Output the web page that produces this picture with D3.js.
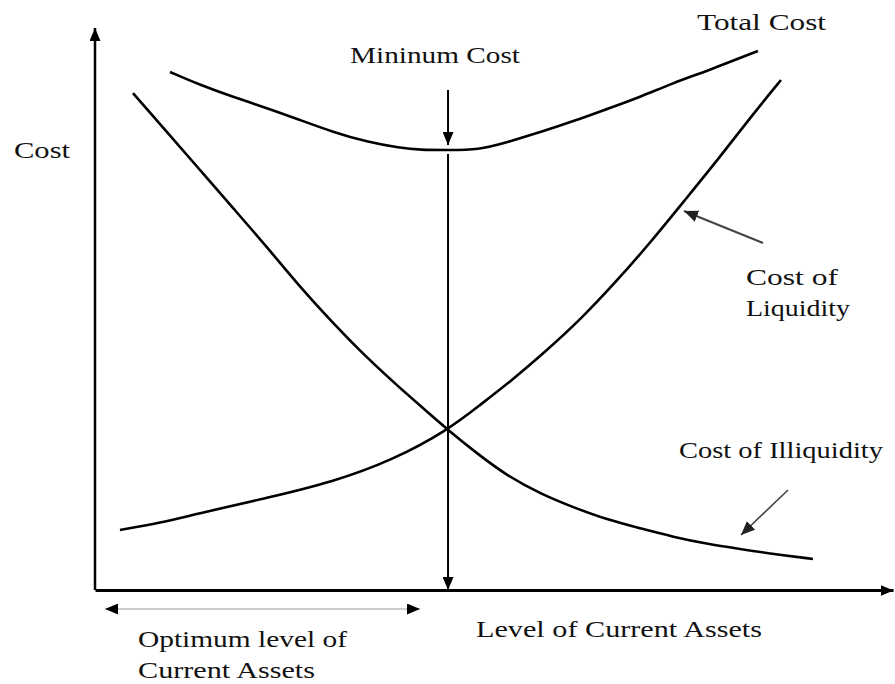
<!DOCTYPE html>
<html>
<head>
<meta charset="utf-8">
<script src="https://cdn.jsdelivr.net/npm/d3@7"></script>
<style>
  body { margin: 0; background: #fff; }
  text { font-family: "Liberation Serif", "DejaVu Serif", serif; fill: #111; }
</style>
</head>
<body>
<svg id="chart" width="895" height="684"></svg>
<script>
// curve data, level of current assets (0-100) vs cost (0-100)
const illiqLevel = [4.76, 9.02, 13.16, 17.29, 21.55, 25.69, 29.82, 34.09, 38.22, 42.36, 44.24,
                    47.62, 51.75, 55.89, 60.03, 64.16, 68.30, 72.49, 76.64, 80.83, 84.96, 89.97];
const illiqCost  = [88.43, 81.49, 74.73, 67.97, 61.03, 53.91, 47.51, 41.28, 35.94, 30.78, 28.47,
                    24.56, 20.2, 17.08, 14.66, 12.51, 10.98, 9.43, 8.22, 7.30, 6.41, 5.52];

const liqLevel = [3.13, 8.15, 13.16, 21.55, 29.82, 37.34, 44.24, 48.25, 52.13, 56.39,
                  60.78, 65.16, 69.55, 73.93, 78.32, 82.08, 85.96];
const liqCost  = [10.68, 11.92, 13.70, 16.37, 19.22, 23.13, 28.47, 32.92, 37.19, 42.35,
                  48.04, 54.63, 61.74, 69.40, 77.05, 83.99, 90.75];

const totalLevel = [9.40, 13.16, 17.29, 21.55, 25.69, 29.82, 34.09, 38.22, 40.73, 44.24, 47.99,
                    51.75, 55.89, 60.03, 64.16, 68.30, 72.43, 76.69, 83.08];
const totalCost  = [92.17, 89.86, 87.72, 85.77, 83.63, 81.49, 79.72, 78.65, 78.29, 78.29, 78.29,
                    79.72, 81.49, 83.45, 85.59, 87.72, 90.21, 92.35, 95.91];

const optimumLevel = 44.24;
const minimumCost = 78.29;

const svg = d3.select("#chart");
const x = d3.scaleLinear().domain([0, 100]).range([95, 893]);
const y = d3.scaleLinear().domain([0, 100]).range([590, 28]);

// arrow heads
const defs = svg.append("defs");
function marker(id, color, len, wid) {
  defs.append("marker")
      .attr("id", id)
      .attr("markerUnits", "userSpaceOnUse")
      .attr("viewBox", "0 0 " + len + " " + wid)
      .attr("markerWidth", len)
      .attr("markerHeight", wid)
      .attr("refX", len)
      .attr("refY", wid / 2)
      .attr("orient", "auto-start-reverse")
    .append("path")
      .attr("d", "M0,0L" + len + "," + (wid / 2) + "L0," + wid + "Z")
      .attr("fill", color);
}
marker("head", "#000", 13, 11);
marker("headSmall", "#222", 14, 12);

// axes (no ticks, just the lines)
const xAxis = svg.append("g")
    .attr("transform", "translate(0," + y(0) + ")")
    .call(d3.axisBottom(x).ticks(0).tickSizeOuter(0));
xAxis.select(".domain")
    .attr("stroke", "#000").attr("stroke-width", 3)
    .attr("marker-end", "url(#head)");

const yAxis = svg.append("g")
    .attr("transform", "translate(" + x(0) + ",0)")
    .call(d3.axisLeft(y).ticks(0).tickSizeOuter(0));
yAxis.select(".domain")
    .attr("stroke", "#000").attr("stroke-width", 2.5)
    .attr("d", "M0," + y(0) + "V" + y(100))
    .attr("marker-end", "url(#head)");

// curves (basis smooths out the hand-read points)
const line = d3.line()
    .x(function(d) { return x(d[0]); })
    .y(function(d) { return y(d[1]); })
    .curve(d3.curveBasis);

const series = [
  d3.zip(illiqLevel, illiqCost),
  d3.zip(liqLevel, liqCost),
  d3.zip(totalLevel, totalCost)
];

svg.append("g").selectAll("path")
    .data(series)
    .enter().append("path")
    .attr("d", line)
    .attr("fill", "none")
    .attr("stroke", "#000")
    .attr("stroke-width", 2.6);

// optimum vertical line down to x axis
svg.append("line")
    .attr("x1", x(optimumLevel)).attr("x2", x(optimumLevel))
    .attr("y1", y(minimumCost) + 4).attr("y2", y(0))
    .attr("stroke", "#000").attr("stroke-width", 2)
    .attr("marker-end", "url(#head)");

// minimum cost arrow
svg.append("line")
    .attr("x1", x(optimumLevel)).attr("x2", x(optimumLevel))
    .attr("y1", 90).attr("y2", y(minimumCost) - 5)
    .attr("stroke", "#000").attr("stroke-width", 2)
    .attr("marker-end", "url(#head)");

// optimum level double arrow
svg.append("line")
    .attr("x1", 105).attr("x2", 420)
    .attr("y1", 609).attr("y2", 609)
    .attr("stroke", "#999").attr("stroke-width", 1.2)
    .attr("marker-start", "url(#head)")
    .attr("marker-end", "url(#head)");

// pointer arrows to curves
svg.append("line")
    .attr("x1", 763).attr("y1", 243).attr("x2", 684).attr("y2", 211)
    .attr("stroke", "#444").attr("stroke-width", 2)
    .attr("marker-end", "url(#headSmall)");
svg.append("line")
    .attr("x1", 788).attr("y1", 490).attr("x2", 741).attr("y2", 535)
    .attr("stroke", "#444").attr("stroke-width", 1.6)
    .attr("marker-end", "url(#headSmall)");

// labels
const labels = [
  {t: "Cost", x: 14, y: 158, w: 56},
  {t: "Mininum Cost", x: 350, y: 63, w: 170},
  {t: "Total Cost", x: 697, y: 30, w: 129},
  {t: "Cost of", x: 746, y: 285, w: 92},
  {t: "Liquidity", x: 746, y: 316, w: 104},
  {t: "Cost of Illiquidity", x: 679, y: 458, w: 204},
  {t: "Level of Current Assets", x: 476, y: 637, w: 286},
  {t: "Optimum level of", x: 138, y: 647, w: 209},
  {t: "Current Assets", x: 138, y: 678, w: 177}
];

svg.append("g").selectAll("text")
    .data(labels)
    .enter().append("text")
    .attr("x", function(d) { return d.x; })
    .attr("y", function(d) { return d.y; })
    .attr("font-size", "23px")
    .attr("textLength", function(d) { return d.w; })
    .attr("lengthAdjust", "spacingAndGlyphs")
    .text(function(d) { return d.t; });
</script>
</body>
</html>
